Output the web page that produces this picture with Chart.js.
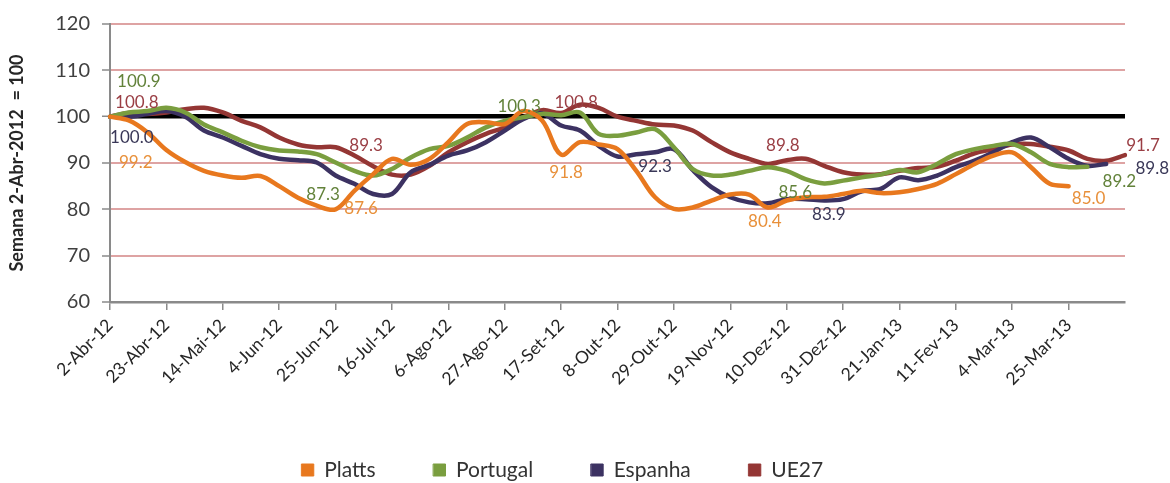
<!DOCTYPE html>
<html>
<head>
<meta charset="utf-8">
<script src="https://cdn.jsdelivr.net/npm/chart.js@4.4.1/dist/chart.umd.min.js"></script>
<style>
html, body { margin: 0; padding: 0; background: #fff; }
</style>
</head>
<body>
<canvas id="myChart" width="1170" height="483"></canvas>
<script>
// Weekly index, week of 2-Abr-2012 = 100
var weeks = ['2-Abr-12','9-Abr-12','16-Abr-12','23-Abr-12','30-Abr-12','7-Mai-12','14-Mai-12','21-Mai-12','28-Mai-12',
  '4-Jun-12','11-Jun-12','18-Jun-12','25-Jun-12','2-Jul-12','9-Jul-12','16-Jul-12','23-Jul-12','30-Jul-12',
  '6-Ago-12','13-Ago-12','20-Ago-12','27-Ago-12','3-Set-12','10-Set-12','17-Set-12','24-Set-12','1-Out-12',
  '8-Out-12','15-Out-12','22-Out-12','29-Out-12','5-Nov-12','12-Nov-12','19-Nov-12','26-Nov-12','3-Dez-12',
  '10-Dez-12','17-Dez-12','24-Dez-12','31-Dez-12','7-Jan-13','14-Jan-13','21-Jan-13','28-Jan-13','4-Fev-13',
  '11-Fev-13','18-Fev-13','25-Fev-13','4-Mar-13','11-Mar-13','18-Mar-13','25-Mar-13','1-Abr-13','8-Abr-13','15-Abr-13'];

var platts = [100.0, 99.2, 96.6, 92.8, 90.2, 88.3, 87.3, 86.8, 87.2, 85.0, 82.5, 80.8, 80.0, 84.0, 87.6, 90.9, 89.6, 90.9,
  94.5, 98.4, 98.8, 98.4, 101.2, 99.1, 91.8, 94.5, 94.0, 93.0, 88.3, 82.6, 80.1, 80.4, 81.9, 83.2, 83.2, 80.4,
  81.9, 82.6, 82.7, 83.3, 84.0, 83.5, 83.7, 84.4, 85.5, 87.6, 89.8, 91.6, 92.3, 89.1, 85.5, 85.0];
var portugal = [100.0, 100.9, 101.2, 101.9, 100.9, 98.3, 96.6, 94.8, 93.4, 92.7, 92.5, 91.9, 90.1, 88.3, 87.3, 88.7, 91.2, 93.0,
  93.7, 95.5, 97.7, 99.1, 99.9, 100.6, 100.3, 100.9, 96.3, 95.9, 96.6, 97.3, 93.4, 88.7, 87.3, 87.5, 88.3, 89.1,
  88.3, 86.5, 85.6, 86.2, 86.9, 87.5, 88.5, 88.0, 89.8, 91.9, 93.0, 93.7, 94.1, 92.3, 89.8, 89.1, 89.2];
var espanha = [100.0, 100.0, 100.6, 101.2, 100.0, 97.0, 95.5, 93.7, 91.9, 90.9, 90.6, 90.1, 87.3, 85.5, 83.3, 83.3, 88.0, 89.6,
  91.6, 92.7, 94.5, 97.0, 99.5, 100.7, 98.1, 97.0, 93.7, 91.4, 91.9, 92.3, 93.0, 88.5, 84.8, 82.6, 81.5, 81.3,
  82.2, 82.2, 81.9, 82.2, 83.9, 84.4, 86.9, 86.3, 87.3, 89.1, 90.5, 92.3, 94.5, 95.5, 93.4, 90.9, 89.4, 89.8];
var ue27 = [100.0, 100.8, 100.6, 100.9, 101.6, 101.9, 100.9, 99.1, 97.7, 95.5, 94.0, 93.4, 93.4, 91.6, 89.3, 87.5, 87.5, 89.4,
  92.3, 94.5, 96.3, 97.7, 99.9, 101.4, 100.8, 102.6, 101.9, 100.0, 99.1, 98.3, 98.1, 97.0, 94.5, 92.3, 90.9, 89.8,
  90.6, 90.9, 89.4, 88.0, 87.5, 87.6, 88.3, 88.9, 89.2, 90.5, 92.1, 93.0, 94.0, 94.1, 93.5, 92.7, 90.9, 90.5, 91.7];

// weeks whose value is written next to the line
var plattsLabelWeeks = [1, 14, 24, 35, 51];
var portugalLabelWeeks = [1, 14, 24, 38, 52];
var espanhaLabelWeeks = [1, 29, 40, 53];
var ue27LabelWeeks = [1, 14, 24, 35, 54];

var seriesNames = ['Platts', 'Portugal', 'Espanha', 'UE27'];

Chart.defaults.font.family = 'Lato';

// text offsets (dx, dy) of each value label from its point
var labelStyle = [
  { color: '#E8903A', weeks: plattsLabelWeeks, off: [[7, 42], [-12, 34], [5, 18], [-3, 14], [20, 12]] },
  { color: '#62823A', weeks: portugalLabelWeeks, off: [[10, -31], [-50, 19], [-42, -9], [-29, 9], [32, 15]] },
  { color: '#3A3858', weeks: espanhaLabelWeeks, off: [[3, 21], [0, 14], [-33, 23], [46, 5]] },
  { color: '#9A3E44', weeks: ue27LabelWeeks, off: [[8, -10], [-7, -21], [15, -10], [15, -18], [18, -10]] }
];

var valueLabels = {
  id: 'valueLabels',
  afterDatasetsDraw: function(chart) {
    var c = chart.ctx;
    c.save();
    c.font = '17px Lato';
    c.textAlign = 'center';
    c.textBaseline = 'middle';
    labelStyle.forEach(function(s, i) {
      var meta = chart.getDatasetMeta(i);
      var values = chart.data.datasets[i].data;
      s.weeks.forEach(function(k, j) {
        var pt = meta.data[k];
        c.fillStyle = s.color;
        c.fillText(values[k].toFixed(1), pt.x + s.off[j][0], pt.y + s.off[j][1]);
      });
    });
    c.restore();
  }
};

function line(label, data, color) {
  return {
    label: label,
    data: data,
    borderColor: color,
    backgroundColor: color,
    borderWidth: 4.5,
    tension: 0.35,
    pointRadius: 0,
    borderCapStyle: 'round',
    borderJoinStyle: 'round',
    fill: false
  };
}

var ctx = document.getElementById("myChart");
var myChart = new Chart(ctx, {
  type: 'line',
  data: {
    labels: weeks,
    datasets: [
      line(seriesNames[0], platts, '#E8781E'),
      line(seriesNames[1], portugal, '#7A9E3F'),
      line(seriesNames[2], espanha, '#3C3262'),
      line(seriesNames[3], ue27, '#943634')
    ]
  },
  plugins: [valueLabels],
  options: {
    responsive: false,
    animation: false,
    layout: { padding: { left: 0, right: 45, top: 19, bottom: -7.5 } },
    plugins: {
      tooltip: { enabled: false },
      legend: {
        position: 'bottom',
        labels: {
          boxWidth: 12,
          boxHeight: 12,
          padding: 58,
          color: '#333',
          font: { size: 21 },
          generateLabels: function(chart) {
            var items = Chart.defaults.plugins.legend.labels.generateLabels(chart);
            items.forEach(function(it) { it.lineWidth = 1; });
            return items;
          }
        }
      }
    },
    scales: {
      x: {
        offset: false,
        afterFit: function(scale) { scale.height = 99.5; },
        border: { color: '#8a8a8a', width: 2.5 },
        grid: {
          drawOnChartArea: false,
          tickLength: 8,
          lineWidth: 1.5,
          color: function(c) { return (c.index % 3 === 0 && c.index < 54) ? '#8a8a8a' : 'rgba(0,0,0,0)'; }
        },
        ticks: {
          autoSkip: false,
          minRotation: 45,
          maxRotation: 45,
          padding: 5,
          color: '#262626',
          font: { size: 17.5 },
          callback: function(val, i) {
            return (i % 3 === 0 && i < 54) ? this.getLabelForValue(val) : '';
          }
        }
      },
      y: {
        min: 60,
        max: 120,
        afterFit: function(scale) { scale.width = 110; },
        border: { color: '#8a8a8a', width: 2 },
        grid: {
          tickLength: 8,
          tickWidth: 1.5,
          tickColor: '#8a8a8a',
          color: function(c) {
            if (c.tick.value === 100) return '#000';
            if (c.tick.value === 60) return 'rgba(0,0,0,0)';
            return '#DEA3A3';
          },
          lineWidth: function(c) { return c.tick.value === 100 ? 4.5 : 2; }
        },
        ticks: {
          stepSize: 10,
          padding: 12,
          color: '#404040',
          font: { size: 20 }
        },
        title: {
          display: true,
          text: 'Semana 2-Abr-2012  = 100',
          color: '#262626',
          font: { size: 18, weight: 'bold' },
          padding: { top: 6, bottom: 0 }
        }
      }
    }
  }
});
</script>
</body>
</html>
